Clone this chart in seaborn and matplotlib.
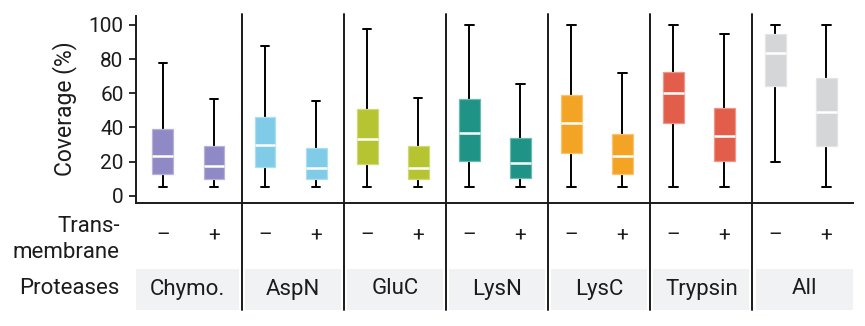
import numpy as np
import pandas as pd
import matplotlib
matplotlib.use("Agg")
import matplotlib.pyplot as plt
import matplotlib.colors as mcolors
import seaborn as sns
from matplotlib.transforms import blended_transform_factory
from matplotlib.patches import Rectangle
from matplotlib.lines import Line2D

# ---------------- data ----------------
proteases = ["Chymo.", "AspN", "GluC", "LysN", "LysC", "Trypsin", "All"]
transmembrane = ["\u2013", "+"]
protease_colors = ["#8f89c5", "#80cbe8", "#b5c430", "#1e9386", "#f4a425", "#e35d4b", "#d5d6d8"]

# five-number summaries per box (order: protease x [-, +])
whisker_low = [5, 5, 5, 5, 5, 5, 5, 5, 5, 5, 5, 5, 19.6, 5]
q1 = [12.5, 9.6, 17.0, 9.6, 18.6, 9.6, 20.3, 10.6, 24.8, 12.5, 42.4, 20.3, 64.1, 29.3]
median = [23.4, 17.6, 29.7, 16.0, 33.2, 16.0, 36.9, 19.0, 42.4, 23.4, 60.0, 35.0, 83.4, 49.2]
q3 = [38.9, 29.1, 45.9, 28.1, 50.6, 29.1, 56.5, 33.6, 59.2, 36.0, 72.6, 51.2, 94.9, 68.8]
whisker_high = [77.9, 56.5, 87.5, 55.5, 97.5, 57.0, 100, 65.3, 100, 71.7, 100, 94.7, 100, 100]
yticks = [0, 20, 40, 60, 80, 100]

# ---------------- build table ----------------
keys, rows, palette = [], [], {}
i = 0
for p, c in zip(proteases, protease_colors):
    for t in transmembrane:
        k = f"{p}|{t}"
        keys.append(k)
        palette[k] = c
        for v in (whisker_low[i], q1[i], median[i], q3[i], whisker_high[i]):
            rows.append({"box": k, "coverage": v})
        i += 1
df = pd.DataFrame(rows)

# ---------------- style ----------------
sns.set_style("white")
plt.rcParams["font.family"] = ["Roboto", "DejaVu Sans"]
txt_color = "#1c1c1c"
plt.rcParams["text.color"] = txt_color
plt.rcParams["axes.labelcolor"] = txt_color
plt.rcParams["xtick.color"] = txt_color
plt.rcParams["ytick.color"] = txt_color

W, H = 865, 326
fig = plt.figure(figsize=(W / 100, H / 100), dpi=100)
ax_l, ax_r, ax_t, ax_b = 136, 853, 14, 203
ax = fig.add_axes([ax_l / W, 1 - ax_b / H, (ax_r - ax_l) / W, (ax_b - ax_t) / H])

sns.boxplot(
    data=df, x="box", y="coverage", hue="box", order=keys, hue_order=keys,
    palette=palette, saturation=1, whis=(0, 100), width=0.41, linewidth=1.4,
    linecolor="black", legend=False, showfliers=False,
    medianprops=dict(color="white", linewidth=1.8),
    capwidths=0.17, ax=ax,
)

# box edges: lighter tint of the fill
for patch in ax.patches:
    fc = np.array(mcolors.to_rgb(patch.get_facecolor()))
    patch.set_edgecolor(tuple(fc + (1 - fc) * 0.35))
    patch.set_linewidth(0.9)
    patch.set_zorder(3)
for ln in ax.lines:
    c = ln.get_color()
    if mcolors.to_hex(c) == "#ffffff":
        ln.set_zorder(4)

x0, x1 = -0.528, 13.52
ax.set_xlim(x0, x1)
ax.set_ylim(-4.3, 106.4)
ax.set_xticks([])
ax.set_xlabel("")
ax.set_yticks(yticks)
ax.set_yticklabels([str(v) for v in yticks], fontsize=15)
ax.tick_params(axis="y", length=5, width=1.3, pad=4, left=True)
ax.set_ylabel("Coverage (%)", fontsize=16.5, labelpad=8)
for s in ["top", "right"]:
    ax.spines[s].set_visible(False)
for s in ["left", "bottom"]:
    ax.spines[s].set_linewidth(1.4)
    ax.spines[s].set_color("#1a1a1a")
ax.spines["left"].set_bounds(-4.3, 105.4)

# ---------------- lower table ----------------
def ay(py):
    return (ax_b - py) / (ax_b - ax_t)

trans = blended_transform_factory(ax.transData, ax.transAxes)
seps = [2 * k + 1.55 for k in range(len(proteases) - 1)]
for s in seps:
    ax.add_line(Line2D([s, s], [ay(310), 1.0], transform=trans, color="#1a1a1a",
                       linewidth=1.4, clip_on=False, zorder=5))

gap = 0.06
edges = [x0] + seps + [x1]
for k, p in enumerate(proteases):
    left = edges[k] + (gap if k > 0 else 0)
    right = edges[k + 1] - (gap if k < len(proteases) - 1 else 0)
    ax.add_patch(Rectangle((left, ay(310)), right - left, ay(269.3) - ay(310),
                           transform=trans, facecolor="#f1f2f4", edgecolor="none",
                           clip_on=False, zorder=1))
    ax.text((left + right) / 2, ay(289), p, transform=trans, ha="center", va="center",
            fontsize=16, clip_on=False)
    for j, t in enumerate(transmembrane):
        ax.text(2 * k + j, ay(235), t, transform=trans, ha="center", va="center",
                fontsize=15, clip_on=False)

fig.text(120 / W, 1 - 226.5 / H, "Trans-", ha="right", va="center", fontsize=16)
fig.text(120 / W, 1 - 253 / H, "membrane", ha="right", va="center", fontsize=16)
fig.text(120 / W, 1 - 289 / H, "Proteases", ha="right", va="center", fontsize=16)

fig.savefig("out.png", dpi=100)
